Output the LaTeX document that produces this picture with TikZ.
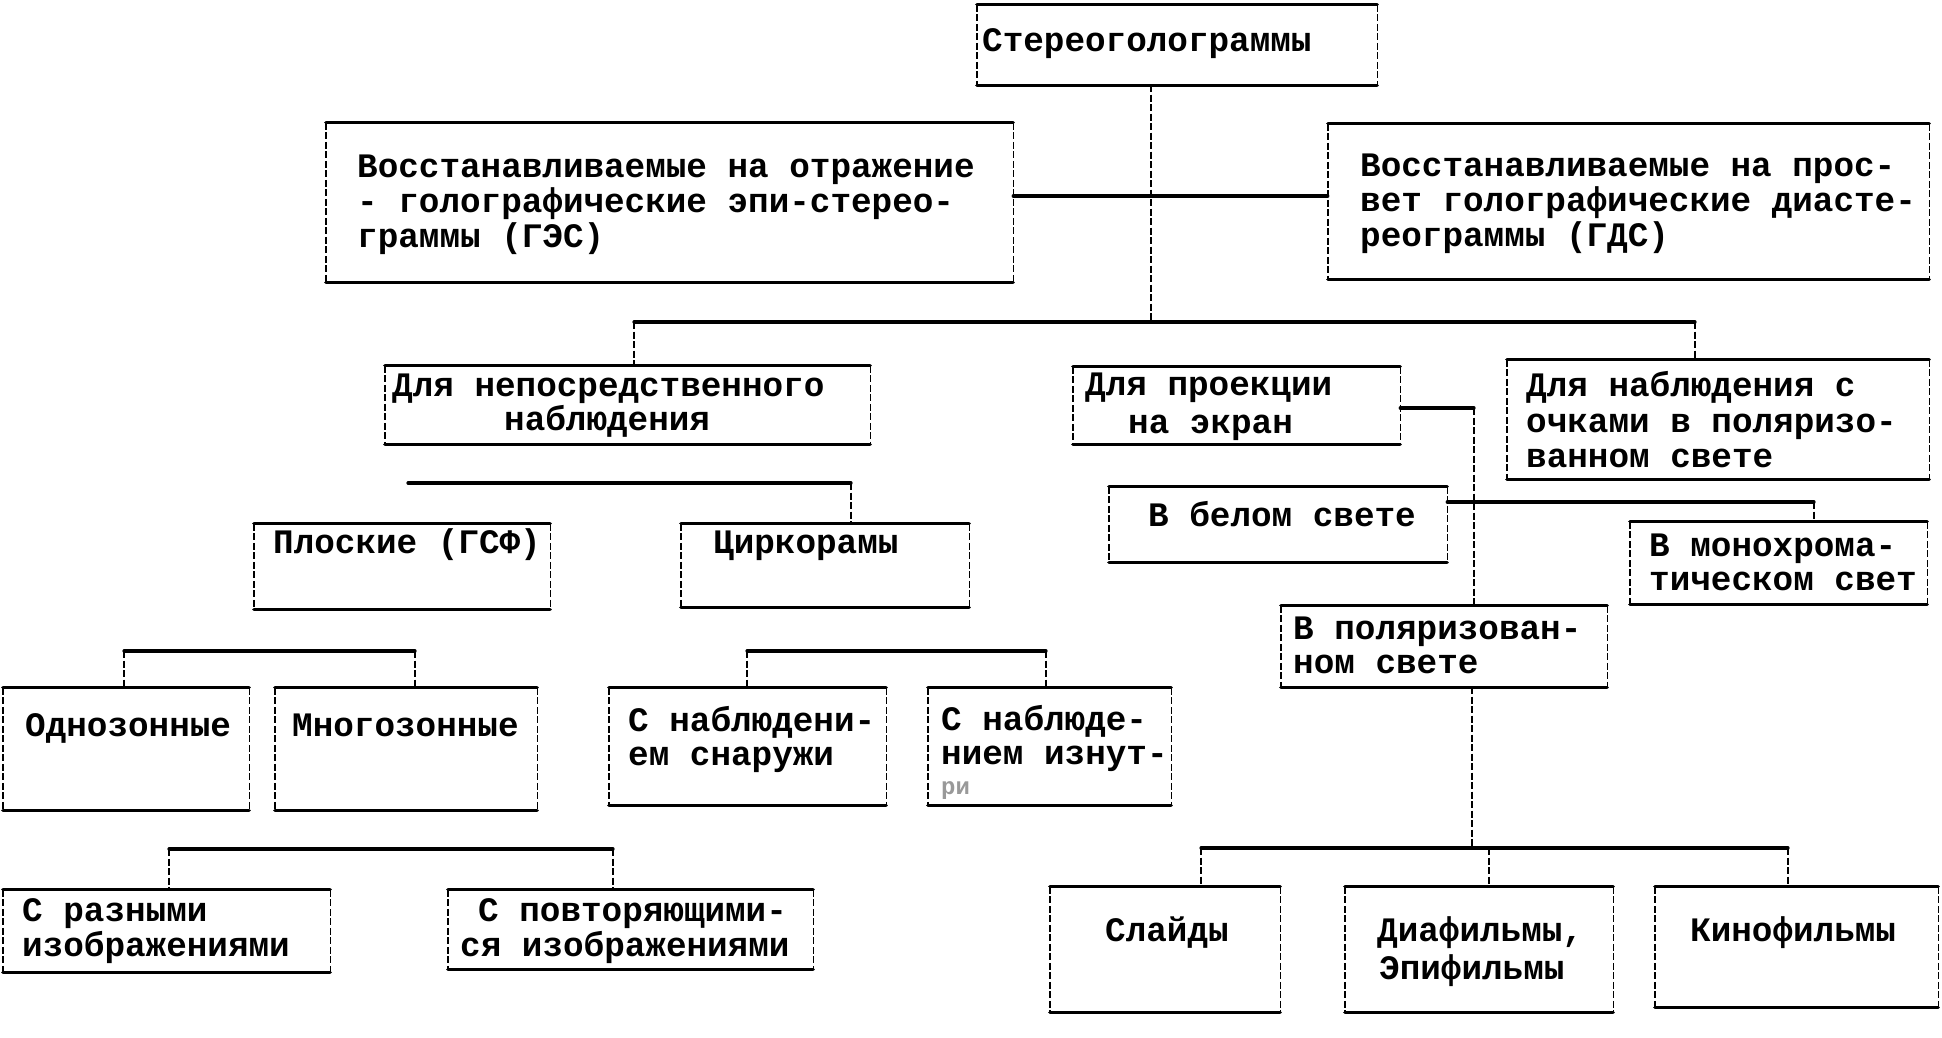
\documentclass[tikz,border=0pt]{standalone}
\usepackage{fontspec}
\newfontfamily\twfont{Liberation Mono}
\usetikzlibrary{fit}
\tikzset{
  hline/.style={line width=3.2pt, line cap=round},
  vline/.style={line width=1.4pt, dash pattern=on 7pt off 2.5pt},
  boxn/.style={inner sep=0pt, draw=none},
  lbl/.style={anchor=base west, inner sep=0pt, font=\twfont\bfseries\fontsize{34.3}{34}\selectfont},
  faint/.style={anchor=base west, inner sep=0pt, text=black!40, font=\twfont\bfseries\fontsize{24}{24}\selectfont},
}
\newcommand\mkbox[5]{%
  \node[boxn, fit={(#2,#3) (#4,#5)}] (#1) {};
  \draw[hline] (#1.north west) -- (#1.north east);
  \draw[hline] (#1.south west) -- (#1.south east);
  \draw[vline] (#1.north west) -- (#1.south west);
  \draw[vline] (#1.north east) -- (#1.south east);
}
\newcommand\txtline[4]{\node[lbl] (#1) at (#2,#3+8) {#4};}
\begin{document}
\begin{tikzpicture}[x=1pt,y=-1pt]
\useasboundingbox[fill=white] (0,0) rectangle (1942,1037);
% boxes
\mkbox{top}{977}{5}{1377}{85}
\mkbox{ges}{326}{123}{1013}{282}
\mkbox{gds}{1328}{124}{1929}{279}
\mkbox{direct}{385}{366}{870}{444}
\mkbox{proj}{1073}{367}{1400}{444}
\mkbox{ochki}{1507}{360}{1929}{479}
\mkbox{flat}{254}{524}{550}{609}
\mkbox{cirk}{681}{524}{969}{607}
\mkbox{white}{1109}{487}{1447}{562}
\mkbox{mono}{1630}{522}{1927}{604}
\mkbox{polar}{1281}{606}{1607}{687}
\mkbox{odno}{3}{688}{249}{810}
\mkbox{mnogo}{275}{688}{537}{810}
\mkbox{snar}{609}{688}{886}{805}
\mkbox{iznut}{928}{688}{1171}{805}
\mkbox{razn}{3}{890}{330}{972}
\mkbox{povt}{448}{890}{813}{969}
\mkbox{slides}{1050}{887}{1280}{1012}
\mkbox{dia}{1345}{887}{1613}{1012}
\mkbox{kino}{1655}{887}{1938}{1007}
% texts
\txtline{t-top}{982}{43}{Стереоголограммы}
\txtline{t-ges1}{357}{169}{Восстанавливаемые на отражение}
\txtline{t-ges2}{357}{204}{- голографические эпи-стерео-}
\txtline{t-ges3}{357}{239}{граммы (ГЭС)}
\txtline{t-gds1}{1360}{168}{Восстанавливаемые на прос-}
\txtline{t-gds2}{1360}{203}{вет голографические диасте-}
\txtline{t-gds3}{1360}{238}{реограммы (ГДС)}
\txtline{t-dir1}{392}{388}{Для непосредственного}
\txtline{t-dir2}{504}{422}{наблюдения}
\txtline{t-proj1}{1085}{387}{Для проекции}
\txtline{t-proj2}{1128}{425}{на экран}
\txtline{t-och1}{1526}{388}{Для наблюдения с}
\txtline{t-och2}{1526}{424}{очками в поляризо-}
\txtline{t-och3}{1526}{459}{ванном свете}
\txtline{t-flat}{273}{545}{Плоские (ГСФ)}
\txtline{t-cirk}{713}{545}{Циркорамы}
\txtline{t-white}{1148}{518}{В белом свете}
\txtline{t-mono1}{1649}{548}{В монохрома-}
\txtline{t-mono2}{1649}{582}{тическом свет}
\txtline{t-pol1}{1293}{631}{В поляризован-}
\txtline{t-pol2}{1293}{665}{ном свете}
\txtline{t-odno}{25}{728}{Однозонные}
\txtline{t-mnogo}{292}{728}{Многозонные}
\txtline{t-snar1}{628}{723}{С наблюдени-}
\txtline{t-snar2}{628}{757}{ем снаружи}
\txtline{t-izn1}{941}{722}{С наблюде-}
\txtline{t-izn2}{941}{756}{нием изнут-}
\node[faint] (t-izn3) at (941,794) {ри};
\txtline{t-razn1}{22}{913}{С разными}
\txtline{t-razn2}{22}{948}{изображениями}
\txtline{t-povt1}{478}{913}{С повторяющими-}
\txtline{t-povt2}{460}{948}{ся изображениями}
\txtline{t-slides}{1105}{933}{Слайды}
\txtline{t-dia1}{1377}{933}{Диафильмы,}
\txtline{t-dia2}{1379}{971}{Эпифильмы}
\txtline{t-kino}{1690}{933}{Кинофильмы}
% connectors
\coordinate (a1) at (1151,196);
\draw[hline] (ges.east |- a1) -- (gds.west |- a1);
\coordinate (b0) at (1151,322);
\draw[vline] (top.south -| b0) -- (b0);
\coordinate (bL) at (634,322);
\coordinate (bR) at (1695,322);
\draw[hline] (bL) -- (bR);
\draw[vline] (bL) -- (direct.north -| bL);
\draw[vline] (bR) -- (ochki.north -| bR);
\coordinate (cL) at (408,483);
\coordinate (cR) at (851,483);
\draw[hline] (cL) -- (cR);
\draw[vline] (cR) -- (cirk.north -| cR);
\coordinate (dL) at (124,651);
\coordinate (dR) at (415,651);
\draw[hline] (dL) -- (dR);
\draw[vline] (dL) -- (odno.north -| dL);
\draw[vline] (dR) -- (mnogo.north -| dR);
\coordinate (eL) at (747,651);
\coordinate (eR) at (1046,651);
\draw[hline] (eL) -- (eR);
\draw[vline] (eL) -- (snar.north -| eL);
\draw[vline] (eR) -- (iznut.north -| eR);
\coordinate (fL) at (169,849);
\coordinate (fR) at (613,849);
\draw[hline] (fL) -- (fR);
\draw[vline] (fL) -- (razn.north -| fL);
\draw[vline] (fR) -- (povt.north -| fR);
\coordinate (g1) at (1474,408);
\draw[hline] (proj.east |- g1) -- (g1);
\draw[vline] (g1) -- (polar.north -| g1);
\coordinate (h1) at (1814,502);
\draw[hline] (white.east |- h1) -- (h1);
\draw[vline] (h1) -- (mono.north -| h1);
\coordinate (k0) at (1472,848);
\draw[vline] (polar.south -| k0) -- (k0);
\coordinate (kL) at (1201,848);
\coordinate (kM) at (1489,848);
\coordinate (kR) at (1788,848);
\draw[hline] (kL) -- (kR);
\draw[vline] (kL) -- (slides.north -| kL);
\draw[vline] (kM) -- (dia.north -| kM);
\draw[vline] (kR) -- (kino.north -| kR);
\end{tikzpicture}
\end{document}
